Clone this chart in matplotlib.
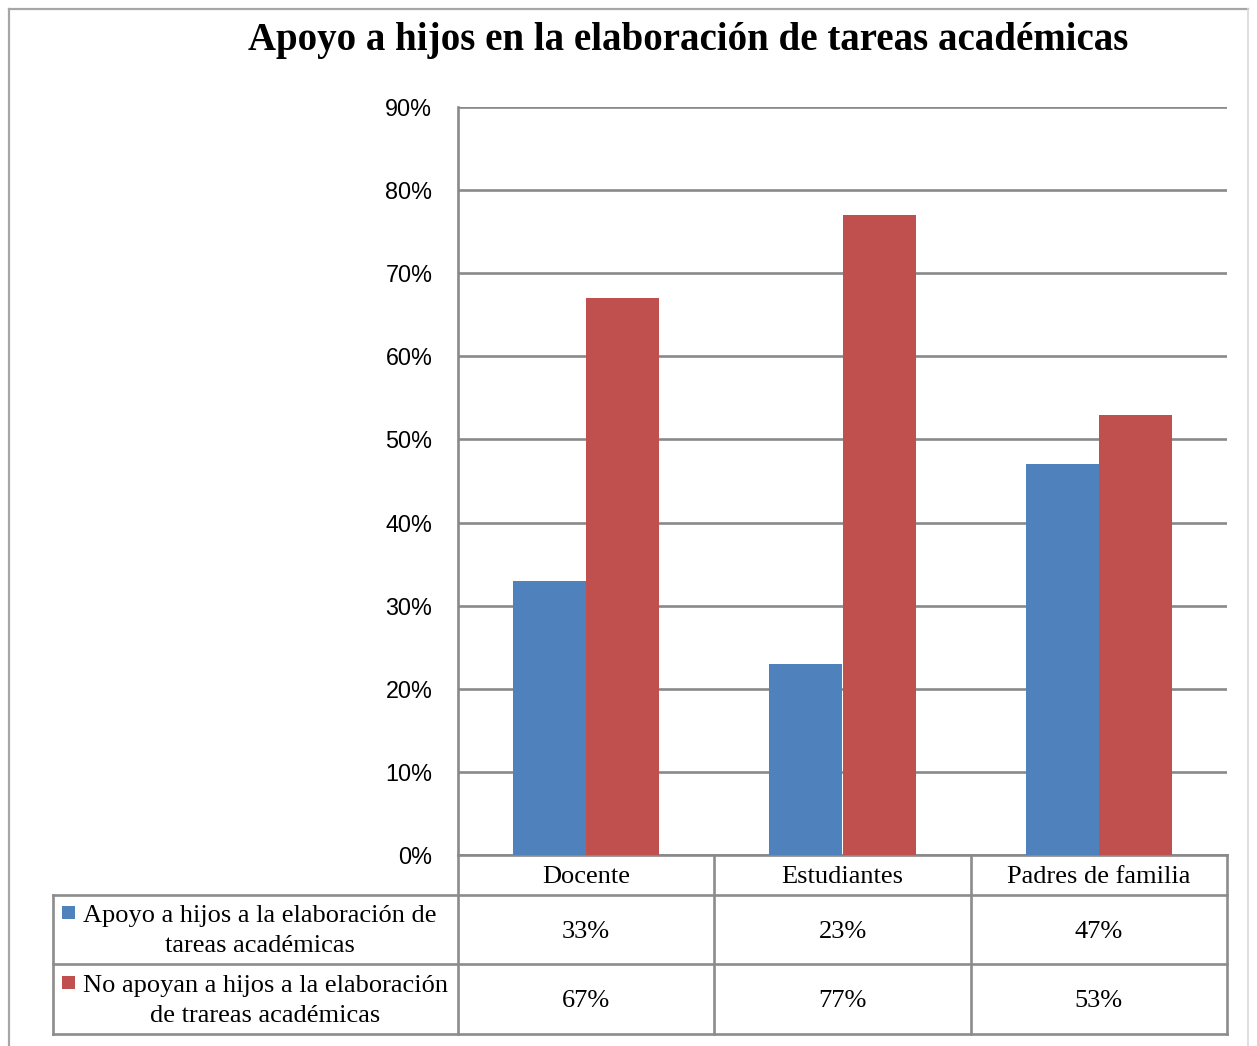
import matplotlib
matplotlib.use('Agg')
import matplotlib.pyplot as plt
import matplotlib.transforms as mtransforms
from matplotlib.lines import Line2D
from matplotlib.patches import Rectangle
import numpy as np

# ---- data ----
title = 'Apoyo a hijos en la elaboración de tareas académicas'
categories = ['Docente', 'Estudiantes', 'Padres de familia']
series_names = ['Apoyo a hijos a la elaboración de\ntareas académicas',
                'No apoyan a hijos a la elaboración\nde trareas académicas']
apoyo = [33, 23, 47]
no_apoyo = [67, 77, 53]
apoyo_labels = ['33%', '23%', '47%']
no_apoyo_labels = ['67%', '77%', '53%']
yticks = [0, 10, 20, 30, 40, 50, 60, 70, 80, 90]
ytick_labels = ['0%', '10%', '20%', '30%', '40%', '50%', '60%', '70%', '80%', '90%']

BLUE = '#4F81BD'
RED = '#C0504D'
GRID = '#898989'
SERIF = 'Liberation Serif'

W, H = 1257, 1046
fig = plt.figure(figsize=(W / 100, H / 100), dpi=100)

AL, AR, AT, AB = 458, 1227, 107, 855
ax = fig.add_axes([AL / W, 1 - AB / H, (AR - AL) / W, (AB - AT) / H])

x = np.arange(len(categories))
bw = 0.285
ax.bar(x - bw / 2, apoyo, bw, color=BLUE, zorder=3)
ax.bar(x + bw / 2, no_apoyo, bw, color=RED, zorder=3)

ax.set_xlim(-0.5, len(categories) - 0.5)
ax.set_ylim(0, 90)
ax.set_yticks(yticks)
ax.set_yticklabels(ytick_labels, fontfamily='Liberation Sans', fontsize=16.8)
ax.set_xticks([])
ax.tick_params(axis='y', length=0, pad=18.5)
ax.yaxis.grid(True, color=GRID, linewidth=1.9, zorder=0)
ax.set_axisbelow(True)
for s in ['top', 'right']:
    ax.spines[s].set_visible(False)
for s in ['left', 'bottom']:
    ax.spines[s].set_color(GRID)
    ax.spines[s].set_linewidth(1.9)


def fx(px):
    return (px - AL) / (AR - AL)


def fy(py):
    return (AB - py) / (AB - AT)


# ---- data table ----
TC = '#8C8C8C'
tlw = 1.9
for py, x0 in [(895, 53), (964, 53), (1034, 53)]:
    ax.add_line(Line2D([fx(x0), 1], [fy(py), fy(py)], transform=ax.transAxes,
                       color=TC, lw=tlw, clip_on=False))
ax.add_line(Line2D([fx(53), fx(53)], [fy(895), fy(1034)], transform=ax.transAxes,
                   color=TC, lw=tlw, clip_on=False))
blend = mtransforms.blended_transform_factory(ax.transData, ax.transAxes)
for xb in np.arange(len(categories) + 1) - 0.5:
    ax.add_line(Line2D([xb, xb], [0, fy(1034)], transform=blend,
                       color=TC, lw=tlw, clip_on=False))

for i, c in enumerate(categories):
    ax.text(i, fy(877), c, transform=blend, ha='center', va='center',
            fontfamily=SERIF, fontsize=19)
    ax.text(i, fy(932), apoyo_labels[i], transform=blend, ha='center', va='center',
            fontfamily=SERIF, fontsize=19)
    ax.text(i, fy(1001), no_apoyo_labels[i], transform=blend, ha='center', va='center',
            fontfamily=SERIF, fontsize=19)

for name, col, cx, cy, my in [(series_names[0], BLUE, 259.5, 931, 906),
                              (series_names[1], RED, 265.5, 1001, 976)]:
    ax.text(fx(cx), fy(cy), name, transform=ax.transAxes, ha='center', va='center',
            multialignment='center', fontfamily=SERIF, fontsize=19, linespacing=1.42)
    ax.add_patch(Rectangle((fx(62), fy(my + 13)), fx(75) - fx(62), fy(my) - fy(my + 13),
                           transform=ax.transAxes, facecolor=col, edgecolor='none',
                           clip_on=False))

# ---- title ----
fig.text(688 / W, 1 - 50 / H, title, ha='center', va='baseline',
         fontfamily=SERIF, fontweight='bold', fontsize=28)

# ---- outer border ----
BC = '#A6A6A6'
fig.add_artist(Line2D([9 / W, 9 / W], [0, 1 - 9 / H], transform=fig.transFigure, color=BC, lw=1.6))
fig.add_artist(Line2D([9 / W, 1248 / W], [1 - 9 / H, 1 - 9 / H], transform=fig.transFigure, color=BC, lw=1.6))
fig.add_artist(Line2D([1248 / W, 1248 / W], [0, 1 - 9 / H], transform=fig.transFigure, color='#D9D9D9', lw=1.2))

fig.savefig('out.png', dpi=100)
